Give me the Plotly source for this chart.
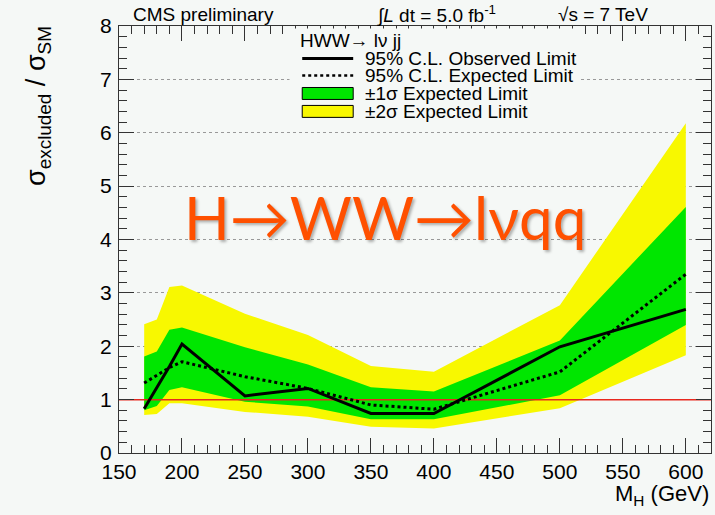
import plotly.graph_objects as go

# Higgs mass points (GeV)
MASS = [170, 180, 190, 200, 250, 300, 350, 400, 500, 600]

# 95% C.L. limits on sigma / sigma_SM
OBSERVED = [0.83, 1.22, 1.62, 2.04, 1.07, 1.21, 0.74, 0.74, 1.99, 2.69]
EXPECTED = [1.31, 1.45, 1.60, 1.71, 1.43, 1.21, 0.90, 0.82, 1.52, 3.35]

# expected-limit bands
SIGMA1_UP = [1.81, 1.90, 2.31, 2.35, 1.98, 1.66, 1.23, 1.15, 2.11, 4.61]
SIGMA1_DN = [0.80, 0.88, 1.18, 1.23, 0.96, 0.87, 0.63, 0.63, 1.08, 2.40]
SIGMA2_UP = [2.41, 2.50, 3.11, 3.14, 2.61, 2.21, 1.63, 1.52, 2.77, 6.18]
SIGMA2_DN = [0.71, 0.73, 0.93, 0.93, 0.77, 0.68, 0.49, 0.46, 0.84, 1.83]

SM_LINE = 1.0
X_RANGE = [150, 620]
Y_RANGE = [0, 8]

LEGEND_HEADER = "HWW→ lν jj"
LEGEND_LABELS = ["95% C.L. Observed Limit", "95% C.L. Expected Limit",
                 "±1σ Expected Limit", "±2σ Expected Limit"]

BG_COLOR = "#f5f8f6"
YELLOW = "#f8f800"
GREEN = "#00e600"
FONT = "Liberation Sans, Arial, sans-serif"
TEXT_SIZE = 19


def band(up, dn):
    # closed polygon: upper edge forward, lower edge back
    return MASS + MASS[::-1], up + dn[::-1]


fig = go.Figure()

bx, by = band(SIGMA2_UP, SIGMA2_DN)
fig.add_trace(go.Scatter(x=bx, y=by, fill="toself", fillcolor=YELLOW,
                         line=dict(width=0), mode="lines", hoverinfo="skip"))
bx, by = band(SIGMA1_UP, SIGMA1_DN)
fig.add_trace(go.Scatter(x=bx, y=by, fill="toself", fillcolor=GREEN,
                         line=dict(width=0), mode="lines", hoverinfo="skip"))

fig.add_trace(go.Scatter(x=X_RANGE, y=[SM_LINE, SM_LINE], mode="lines",
                         line=dict(color="#e8281e", width=1.5)))

fig.add_trace(go.Scatter(x=MASS, y=EXPECTED, mode="lines",
                         line=dict(color="black", width=3, dash="3px,3px")))
fig.add_trace(go.Scatter(x=MASS, y=OBSERVED, mode="lines",
                         line=dict(color="black", width=3)))

axis_common = dict(
    showline=True, linecolor="#333", linewidth=1, mirror="allticks",
    ticks="inside", ticklen=15, tickcolor="#333", tickwidth=1,
    tickfont=dict(family=FONT, size=21, color="black"),
    zeroline=False,
)
fig.update_xaxes(range=X_RANGE, tick0=150, dtick=50, showgrid=False,
                 minor=dict(dtick=10, ticks="inside", ticklen=8, tickcolor="#333"),
                 **axis_common)
fig.update_yaxes(range=Y_RANGE, dtick=1, showgrid=True, gridcolor="#999",
                 griddash="dot", gridwidth=1, ticklabelstandoff=2,
                 minor=dict(dtick=0.2, ticks="inside", ticklen=8, tickcolor="#333"),
                 **axis_common)

# ROOT-style legend box drawn in paper coordinates
LEG_X0, LEG_X1, LEG_TXT = 0.3095, 0.3956, 0.4125
LEG_ROWS = [0.924, 0.884, 0.842, 0.800]
BOX_H = 0.014
fig.add_shape(type="rect", xref="paper", yref="paper", x0=0.288, x1=0.776,
              y0=0.778, y1=0.994, fillcolor=BG_COLOR, line=dict(width=0),
              layer="above")
fig.add_shape(type="line", xref="paper", yref="paper", x0=LEG_X0, x1=LEG_X1,
              y0=LEG_ROWS[0], y1=LEG_ROWS[0], line=dict(color="black", width=3),
              layer="above")
fig.add_shape(type="line", xref="paper", yref="paper", x0=LEG_X0, x1=LEG_X1,
              y0=LEG_ROWS[1], y1=LEG_ROWS[1],
              line=dict(color="black", width=2.5, dash="3px,3px"), layer="above")
for row, color in zip(LEG_ROWS[2:], [GREEN, YELLOW]):
    fig.add_shape(type="rect", xref="paper", yref="paper", x0=LEG_X0, x1=LEG_X1,
                  y0=row - BOX_H, y1=row + BOX_H, fillcolor=color,
                  line=dict(color="black", width=1), layer="above")

leg_font = dict(family=FONT, size=TEXT_SIZE, color="black")
fig.add_annotation(text=LEGEND_HEADER, xref="paper", yref="paper", x=0.3027,
                   y=0.966, xanchor="left", yanchor="middle", showarrow=False,
                   font=leg_font)
for row, label in zip(LEG_ROWS, LEGEND_LABELS):
    fig.add_annotation(text=label, xref="paper", yref="paper", x=LEG_TXT, y=row,
                       xanchor="left", yanchor="middle", showarrow=False,
                       font=leg_font)

fig.add_annotation(text="H→WW→lνqq", xref="paper", yref="y", x=0.45, y=4.415,
                   xanchor="center", yanchor="middle", showarrow=False,
                   font=dict(family="Lato, Open Sans, sans-serif", size=60,
                             color="#ff5000",
                             shadow="2px 2px 3px rgba(0,0,0,0.3)"))

head_font = dict(family=FONT, size=TEXT_SIZE, color="black")
fig.add_annotation(text="CMS preliminary", xref="paper", yref="paper",
                   x=0.021, y=1.028, xanchor="left", yanchor="middle",
                   showarrow=False, font=head_font)
fig.add_annotation(text="∫<i>L</i> dt = 5.0 fb<sup>-1</sup>", xref="paper",
                   yref="paper", x=0.432, y=1.028, xanchor="left",
                   yanchor="middle", showarrow=False, font=head_font)
fig.add_annotation(text="√s = 7 TeV", xref="paper", yref="paper",
                   x=0.738, y=1.028, xanchor="left", yanchor="middle",
                   showarrow=False, font=head_font)

fig.add_annotation(text="σ<sub>excluded</sub> / σ<sub>SM</sub>", xref="paper",
                   yref="paper", x=-0.136, y=1.006, xanchor="center",
                   yanchor="top", textangle=-90, showarrow=False,
                   font=dict(family=FONT, size=27, color="black"))
fig.add_annotation(text="M<sub>H</sub> (GeV)", xref="paper", yref="paper",
                   x=1.0, y=-0.098, xanchor="right", yanchor="middle",
                   showarrow=False,
                   font=dict(family=FONT, size=22, color="black"))

fig.update_layout(
    width=715, height=515,
    margin=dict(l=119, r=4, t=26, b=62),
    paper_bgcolor=BG_COLOR, plot_bgcolor=BG_COLOR,
    font=dict(family=FONT, color="black"),
    showlegend=False,
)

fig.write_html("out.html", config={"displayModeBar": False},
               post_script="document.body.style.margin='0';")
